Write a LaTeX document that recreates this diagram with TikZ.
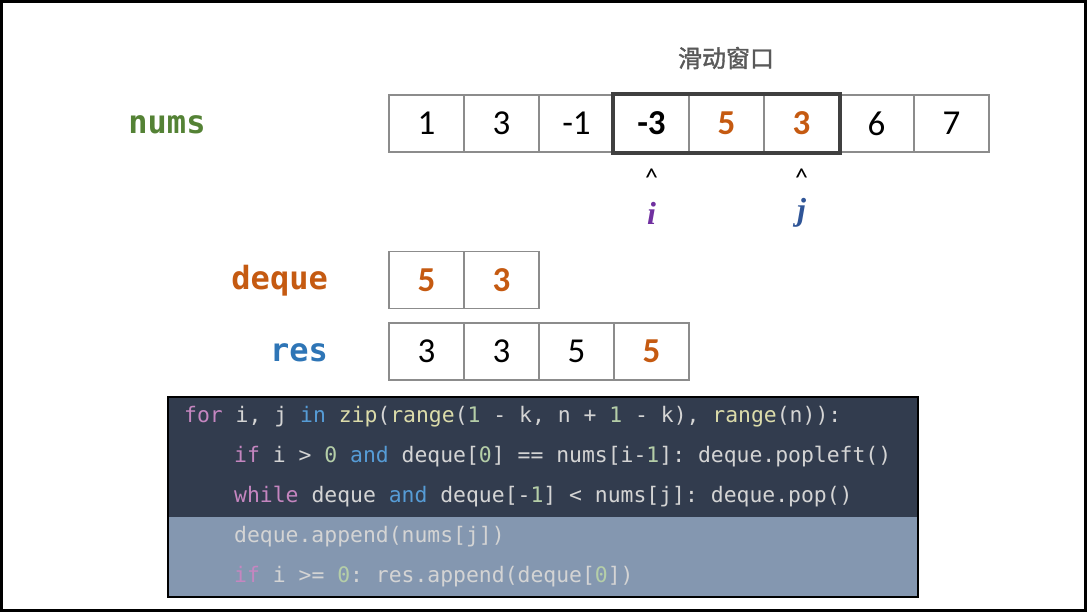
\documentclass[tikz,border=0pt]{standalone}
\usepackage{fontspec}
\usepackage{xcolor}
\usepackage{tikz}
\usetikzlibrary{positioning}
\setmainfont{Carlito}
\setmonofont{DejaVu Sans Mono}
\newfontfamily\cjkfont[FakeBold=1.5]{Noto Sans CJK SC}
\newfontfamily\ijfont{Liberation Serif}

\definecolor{cellgray}{HTML}{8C8C8C}
\definecolor{wingray}{HTML}{404040}
\definecolor{hotorange}{HTML}{C55A11}
\definecolor{numsgreen}{HTML}{548235}
\definecolor{resblue}{HTML}{2E75B6}
\definecolor{ipurple}{HTML}{7030A0}
\definecolor{jblue}{HTML}{2F5597}
\definecolor{codedark}{HTML}{323C4E}
\definecolor{codelight}{HTML}{8497B0}
\definecolor{codetxt}{HTML}{D4D4D4}
\definecolor{kwpink}{HTML}{C586C0}
\definecolor{kwblue}{HTML}{569CD6}
\definecolor{fnyellow}{HTML}{DCDCAA}
\definecolor{numgreen}{HTML}{B5CEA8}

\newcommand{\kw}[1]{\textcolor{kwpink}{#1}}
\newcommand{\bl}[1]{\textcolor{kwblue}{#1}}
\newcommand{\fn}[1]{\textcolor{fnyellow}{#1}}
\newcommand{\nm}[1]{\textcolor{numgreen}{#1}}

\begin{document}
\begin{tikzpicture}[x=1pt,y=-1pt,
  cell/.style={draw=cellgray,line width=1.5pt,minimum width=75pt,minimum height=57pt,inner sep=0pt,
    font=\fontsize{35}{35}\selectfont},
  plain/.style={},
  neg/.style={font=\fontsize{35}{35}\selectfont\bfseries},
  hot/.style={font=\fontsize{35}{35}\selectfont\bfseries,text=hotorange},
  lbl/.style={font=\ttfamily\bfseries\fontsize{32}{32}\selectfont,inner sep=0pt},
  caret/.style={font=\fontsize{26}{26}\selectfont,inner sep=0pt},
  ptr/.style={font=\ijfont\bfseries\itshape\fontsize{32}{32}\selectfont,inner sep=0pt},
  codeln/.style={anchor=west,inner sep=0pt,text=codetxt,font=\ttfamily\fontsize{21.4}{22}\selectfont}]
\useasboundingbox (0,0) rectangle (1087,612);
\draw[line width=3pt] (1.5,1.5) rectangle (1085.5,610.5);

% nums row
\foreach \k/\v/\s in {1/1/plain,2/3/plain,3/-1/plain,4/-3/neg,5/5/hot,6/3/hot,7/6/plain,8/7/plain}
  \node[cell,\s] (n\k) at ({389+75*(\k-0.5)},123.5) {\v};
\draw[wingray,line width=4pt] (n4.north west) rectangle (n6.south east);
\node[font=\cjkfont\fontsize{24}{24}\selectfont,text=black!65] (win) at (726,58) {滑动窗口};
\node[lbl,text=numsgreen] (lnums) at (167,125) {nums};

% pointers
\node[caret] (ci) at (n4 |- 0,178) {\textasciicircum};
\node[caret] (cj) at (n6 |- 0,178) {\textasciicircum};
\node[ptr,text=ipurple] (pi) at (n4 |- 0,213) {i};
\node[ptr,text=jblue] (pj) at (n6 |- 0,213) {j};

% deque and res
\foreach \k/\v in {1/5,2/3}
  \node[cell,hot] (d\k) at ({389+75*(\k-0.5)},280) {\v};
\node[lbl,text=hotorange,anchor=east] (ldeque) at (328,281) {deque};
\foreach \k/\v/\s in {1/3/plain,2/3/plain,3/5/plain,4/5/hot}
  \node[cell,\s] (r\k) at ({389+75*(\k-0.5)},351.5) {\v};
\node[lbl,text=resblue,anchor=east] (lres) at (328,353) {res};

% code
\node[fill=codedark,minimum width=750pt,minimum height=200pt,anchor=north west,inner sep=0pt] (code) at (168,397) {};
\fill[codelight] (code.west |- 0,517) rectangle (code.south east);
\draw[line width=2pt] (code.north west) rectangle (code.south east);
\node[codeln] (c1) at (184,417) {\kw{for} i, j \bl{in} \fn{zip}(\fn{range}(\nm{1} - k, n + \nm{1} - k), \fn{range}(n)):};
\node[codeln] (c2) at (234,457) {\kw{if} i > \nm{0} \bl{and} deque[\nm{0}] == nums[i-\nm{1}]: deque.popleft()};
\node[codeln] (c3) at (234,497) {\kw{while} deque \bl{and} deque[-\nm{1}] < nums[j]: deque.pop()};
\node[codeln] (c4) at (234,537) {deque.append(nums[j])};
\node[codeln] (c5) at (234,577) {\kw{if} i >= \nm{0}: res.append(deque[\nm{0}])};
\end{tikzpicture}
\end{document}
